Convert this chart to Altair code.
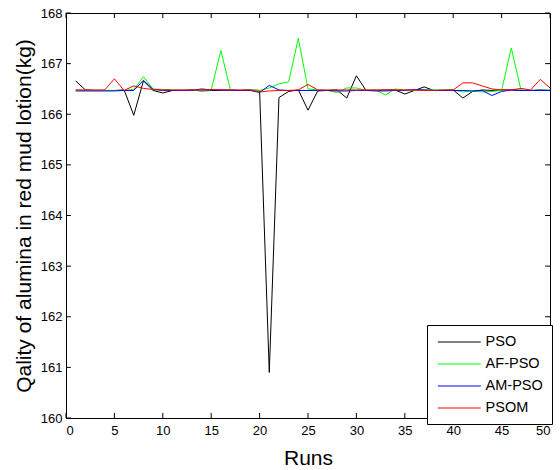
import altair as alt
import pandas as pd

runs = list(range(1, 51))
series_names = ["PSO", "AF-PSO", "AM-PSO", "PSOM"]
series_colors = ["#000000", "#00ff00", "#0000ff", "#ff0000"]

pso = [166.66, 166.48, 166.47, 166.47, 166.47, 166.48, 165.98, 166.66, 166.47, 166.42,
       166.47, 166.47, 166.48, 166.46, 166.47, 166.47, 166.48, 166.47, 166.48, 166.47,
       160.90, 166.33, 166.45, 166.48, 166.08, 166.46, 166.47, 166.48, 166.32, 166.76,
       166.47, 166.47, 166.48, 166.48, 166.40, 166.47, 166.54, 166.47, 166.47, 166.48,
       166.32, 166.45, 166.48, 166.47, 166.48, 166.48, 166.47, 166.47, 166.48, 166.47]
af_pso = [166.48, 166.47, 166.47, 166.47, 166.47, 166.47, 166.49, 166.74, 166.50, 166.49,
          166.48, 166.47, 166.47, 166.48, 166.48, 167.26, 166.47, 166.47, 166.48, 166.47,
          166.52, 166.60, 166.64, 167.50, 166.50, 166.48, 166.47, 166.43, 166.52, 166.52,
          166.47, 166.48, 166.38, 166.50, 166.48, 166.47, 166.48, 166.48, 166.48, 166.48,
          166.44, 166.46, 166.44, 166.45, 166.47, 167.31, 166.48, 166.47, 166.47, 166.48]
am_pso = [166.46, 166.46, 166.46, 166.46, 166.46, 166.47, 166.47, 166.67, 166.49, 166.47,
          166.47, 166.47, 166.47, 166.50, 166.48, 166.48, 166.47, 166.47, 166.47, 166.43,
          166.57, 166.48, 166.47, 166.47, 166.47, 166.47, 166.47, 166.46, 166.46, 166.47,
          166.47, 166.46, 166.46, 166.47, 166.47, 166.49, 166.48, 166.47, 166.47, 166.47,
          166.47, 166.46, 166.47, 166.37, 166.45, 166.48, 166.47, 166.47, 166.47, 166.47]
psom = [166.48, 166.48, 166.48, 166.48, 166.70, 166.47, 166.56, 166.51, 166.49, 166.48,
        166.48, 166.48, 166.48, 166.48, 166.49, 166.48, 166.48, 166.48, 166.48, 166.44,
        166.46, 166.47, 166.47, 166.48, 166.59, 166.48, 166.48, 166.48, 166.48, 166.48,
        166.48, 166.48, 166.48, 166.48, 166.48, 166.48, 166.47, 166.47, 166.48, 166.48,
        166.62, 166.62, 166.56, 166.50, 166.48, 166.48, 166.51, 166.48, 166.69, 166.52]

x_ticks = [0, 5, 10, 15, 20, 25, 30, 35, 40, 45, 50]
y_ticks = [160, 161, 162, 163, 164, 165, 166, 167, 168]

rows = []
for name, vals in zip(series_names, [pso, af_pso, am_pso, psom]):
    for i, (r, v) in enumerate(zip(runs, vals)):
        rows.append({"Run": r, "Value": v, "Series": name, "idx": i})
df = pd.DataFrame(rows)

FONT = "Liberation Sans"
xscale = alt.Scale(domain=[0, 50], nice=False, zero=False)
yscale = alt.Scale(domain=[160, 168], nice=False, zero=False)

lines = alt.Chart(df).mark_line(strokeWidth=1, clip=True).encode(
    x=alt.X("Run:Q", scale=xscale,
            axis=alt.Axis(title="Runs", values=x_ticks, ticks=False, grid=False,
                          labelPadding=6, titlePadding=10, format="d")),
    y=alt.Y("Value:Q", scale=yscale,
            axis=alt.Axis(title="Qality of alumina in red mud lotion(kg)", values=y_ticks,
                          ticks=False, grid=False, labelPadding=4, titlePadding=6, format="d")),
    color=alt.Color("Series:N",
                    scale=alt.Scale(domain=series_names, range=series_colors),
                    legend=alt.Legend(title=None, orient="none", legendX=361, legendY=312,
                                      symbolType="M-0.86,0H5.14", symbolSize=205,
                                      symbolStrokeWidth=1,
                                      labelFont=FONT, labelFontSize=14.5, labelColor="black",
                                      labelOffset=33.6, padding=9, rowPadding=7,
                                      strokeColor="black", fillColor="white", cornerRadius=0)),
    order="idx:Q",
)

xt = pd.DataFrame({"t": x_ticks})
yt = pd.DataFrame({"t": y_ticks})

tick_bottom = alt.Chart(xt).mark_rule(color="black", strokeWidth=1).encode(
    x=alt.X("t:Q", scale=xscale), y=alt.datum(160), y2=alt.datum(160.1))
tick_top = alt.Chart(xt).mark_rule(color="black", strokeWidth=1).encode(
    x=alt.X("t:Q", scale=xscale), y=alt.datum(168), y2=alt.datum(167.9))
tick_left = alt.Chart(yt).mark_rule(color="black", strokeWidth=1).encode(
    y=alt.Y("t:Q", scale=yscale), x=alt.datum(0), x2=alt.datum(0.5))
tick_right = alt.Chart(yt).mark_rule(color="black", strokeWidth=1).encode(
    y=alt.Y("t:Q", scale=yscale), x=alt.datum(50), x2=alt.datum(49.5))

chart = alt.layer(lines, tick_bottom, tick_top, tick_left, tick_right).properties(
    width=484, height=405,
    autosize=alt.AutoSizeParams(type="none"),
    padding={"left": 66, "top": 13, "right": 10, "bottom": 52},
    background="white",
).configure_view(
    stroke="black", strokeWidth=1
).configure_axis(
    domainColor="black", domainWidth=1,
    labelFont=FONT, labelFontSize=13, labelColor="black",
    titleFont=FONT, titleFontSize=21, titleFontWeight="normal", titleColor="black",
)

chart.save("out.html", embed_options={"renderer": "svg", "actions": False})
